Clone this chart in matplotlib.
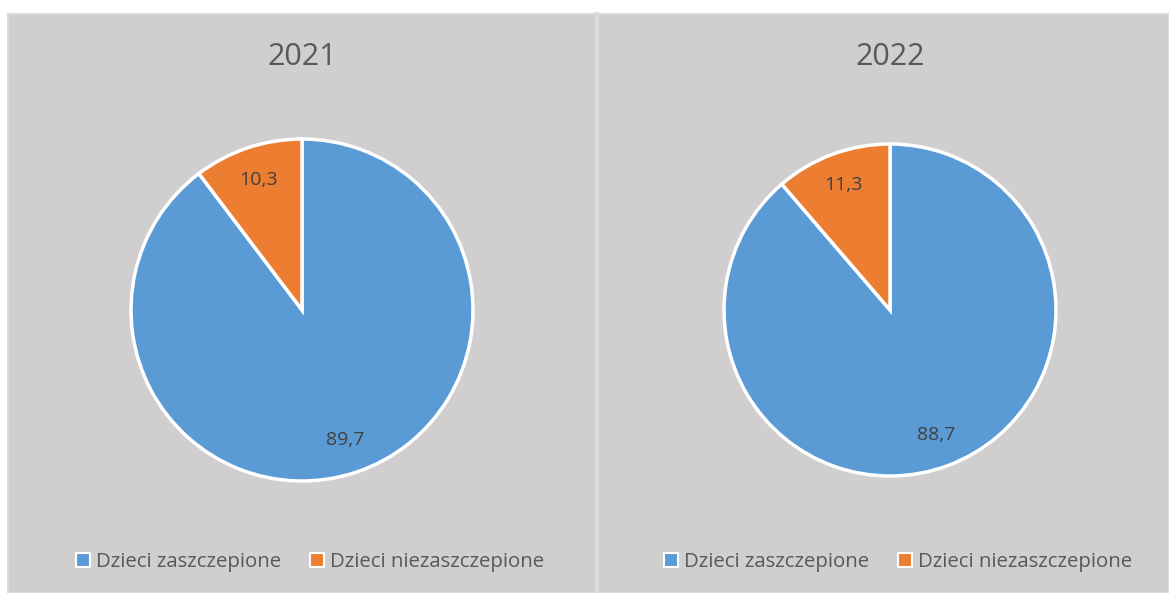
import matplotlib.pyplot as plt
from matplotlib.patches import Rectangle, Patch

# dane
lata = ['2021', '2022']
kategorie = ['Dzieci zaszczepione', 'Dzieci niezaszczepione']
zaszczepione = [89.7, 88.7]
niezaszczepione = [10.3, 11.3]

kolory = ['#5B9BD5', '#ED7D31']
tlo = '#D0CECE'
szary_tekst = '#595959'

plt.rcParams['font.family'] = ['Open Sans', 'DejaVu Sans']

W, H = 1169, 593
fig = plt.figure(figsize=(W / 100, H / 100), dpi=100)
fig.patch.set_facecolor('white')

# szare tło wykresów
fig.add_artist(Rectangle((8 / W, 0), 1 - 8 / W, 1 - 14 / H, transform=fig.transFigure,
                         facecolor=tlo, edgecolor='#DADADA', linewidth=1.5, zorder=0))
# pionowa linia między panelami
fig.add_artist(plt.Line2D([596.5 / W, 596.5 / W], [0, 1 - 14 / H], transform=fig.transFigure,
                          color='#DCDBDB', linewidth=3, zorder=1))

srodki = [(302, 310, 171), (890, 310, 166)]
box = 190

for i, rok in enumerate(lata):
    cx, cy, r = srodki[i]
    ax = fig.add_axes([(cx - box) / W, (H - cy - box) / H, 2 * box / W, 2 * box / H])
    wartosci = [zaszczepione[i], niezaszczepione[i]]
    wedges, _, autotexts = ax.pie(
        wartosci, colors=kolory, startangle=90, counterclock=False,
        radius=r / box, autopct=lambda p: '',
        pctdistance=0.8,
        wedgeprops=dict(edgecolor='white', linewidth=2.5),
    )
    ax.set_xlim(-1, 1)
    ax.set_ylim(-1, 1)
    ax.set_aspect('equal')
    ax.axis('off')
    for t, v in zip(autotexts, wartosci):
        t.set_text(f'{v:.1f}'.replace('.', ','))
        t.set_fontsize(14)
        t.set_color('#404040')

    fig.text(cx / W, 1 - 57 / H, rok, ha='center', va='center', fontsize=22, color=szary_tekst)

    uchwyty = [Patch(facecolor=c, edgecolor='white', linewidth=1.5) for c in kolory]
    fig.legend(uchwyty, kategorie, loc='center', bbox_to_anchor=((cx + 8) / W, 1 - 562 / H),
               ncol=2, frameon=False, fontsize=14.7, labelcolor=szary_tekst,
               handlelength=0.7, handleheight=0.7, handletextpad=0.3, columnspacing=1.4)

fig.savefig('out.png', dpi=100, facecolor=fig.get_facecolor())
